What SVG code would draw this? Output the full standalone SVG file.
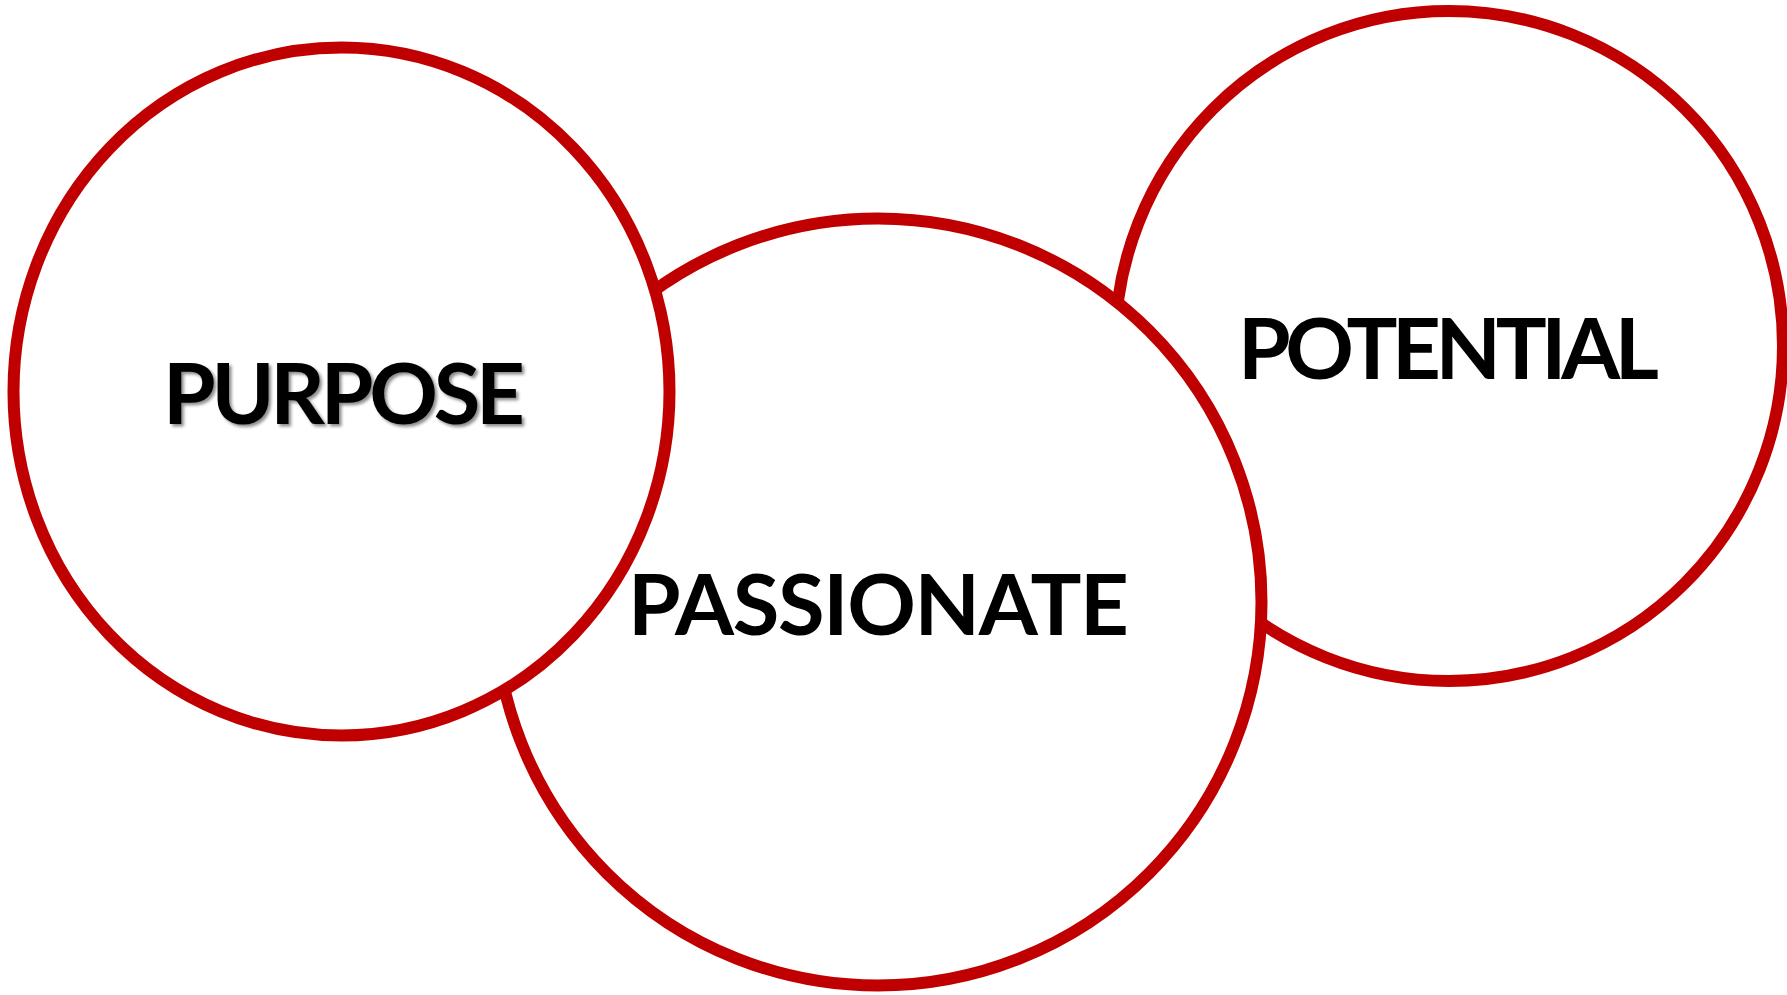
<svg xmlns="http://www.w3.org/2000/svg" width="1787" height="995" viewBox="0 0 1787 995">
<defs>
<filter id="shadow" x="-10%" y="-30%" width="120%" height="160%">
<feDropShadow dx="2.5" dy="2.5" stdDeviation="1.5" flood-color="#000" flood-opacity="0.45"/>
</filter>
<style>
.ring{fill:#ffffff;stroke:#C00000;stroke-width:12}
.lbl{font-family:Lato,"Liberation Sans",sans-serif;font-weight:700;font-size:85px;fill:#000;text-anchor:middle}
</style>
</defs>
<rect x="0" y="0" width="1787" height="995" fill="#ffffff"/>
<g id="connectors"></g>
<g id="potential">
<ellipse class="ring" cx="1449" cy="346" rx="334" ry="335"/>
<text class="lbl" x="1448.5" y="379" textLength="421" lengthAdjust="spacing">POTENTIAL</text>
</g>
<g id="passionate">
<ellipse class="ring" cx="878" cy="602" rx="383.5" ry="383.5"/>
<text class="lbl" x="878.5" y="634.5" textLength="501" lengthAdjust="spacing">PASSIONATE</text>
</g>
<g id="purpose">
<ellipse class="ring" cx="341.5" cy="391.5" rx="328" ry="344"/>
<text class="lbl" x="344" y="424" textLength="362" lengthAdjust="spacing" filter="url(#shadow)">PURPOSE</text>
</g>
</svg>
